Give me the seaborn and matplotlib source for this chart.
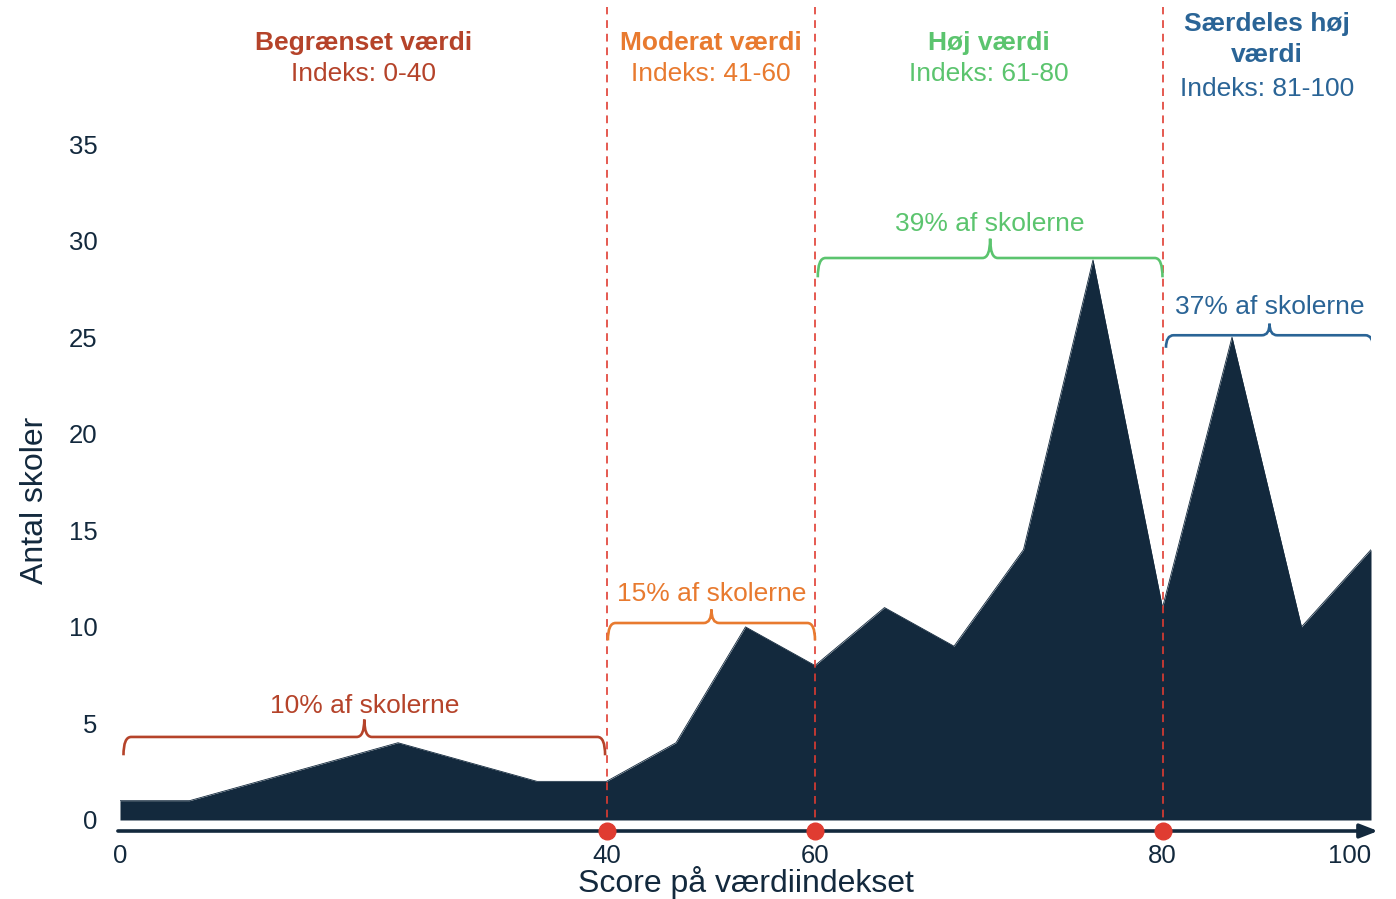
import matplotlib
matplotlib.use("Agg")
import matplotlib.pyplot as plt
from matplotlib.path import Path
from matplotlib.patches import PathPatch
import pandas as pd
import seaborn as sns

# Distribution of schools over the value index (one point per score bin)
bin_index = list(range(19))
school_counts = [1, 1, 2, 3, 4, 3, 2, 2, 4, 10, 8, 11, 9, 14, 29, 11, 25, 10, 14]
tick_positions = [0, 7, 10, 15, 18]
tick_labels = ["0", "40", "60", "80", "100"]
band_edges = [7, 10, 15]

band_titles = ["Begrænset værdi", "Moderat værdi", "Høj værdi", "Særdeles høj\nværdi"]
band_ranges = ["Indeks: 0-40", "Indeks: 41-60", "Indeks: 61-80", "Indeks: 81-100"]
band_shares = ["10% af skolerne", "15% af skolerne", "39% af skolerne", "37% af skolerne"]
band_colors = ["#B5432A", "#E87A2F", "#5BC46E", "#2A6496"]

NAVY = "#13293D"
RED = "#E03C31"

sns.set_theme(style="white")
plt.rcParams["font.family"] = ["Liberation Sans", "DejaVu Sans"]

df = pd.DataFrame({"bin": bin_index, "count": school_counts})

fig = plt.figure(figsize=(13.96, 8.99), dpi=100)
ax = fig.add_axes([120 / 1396, 68 / 899, 1251 / 1396, 831 / 899])

sns.lineplot(data=df, x="bin", y="count", color=NAVY, lw=0.6, ax=ax)
ax.fill_between(df["bin"], 0, df["count"], color=NAVY, lw=0)

ax.set_xlim(0, 18)
ax.set_ylim(-0.57, 42.46)
for s in ax.spines.values():
    s.set_visible(False)

ax.set_yticks(range(0, 40, 5))
ax.set_xticks(tick_positions)
ax.set_xticklabels(tick_labels)
ax.get_xticklabels()[-1].set_horizontalalignment("right")
ax.tick_params(axis="y", length=0, pad=16, labelsize=18.5, labelcolor=NAVY)
ax.tick_params(axis="x", length=0, pad=9.5, labelsize=18.5, labelcolor=NAVY)
ax.set_xlabel("Score på værdiindekset", fontsize=23, color=NAVY, labelpad=-1.5)
ax.set_ylabel("Antal skoler", fontsize=23, color=NAVY)
ax.yaxis.set_label_coords(-0.056, 0.398)

# Horizontal axis arrow
ax.annotate("", xy=(18.1, -0.57), xytext=(-0.03, -0.57),
            arrowprops=dict(arrowstyle="-|>,head_length=0.9,head_width=0.35",
                            color=NAVY, lw=2.6, shrinkA=0, shrinkB=0),
            annotation_clip=False)

# Band boundaries
for e in band_edges:
    ax.axvline(e, ymin=0, ymax=0.992, color=RED, lw=1.4, ls=(0, (4, 3)), alpha=0.85, zorder=3)
ax.plot(band_edges, [-0.57] * len(band_edges), "o", color=RED, ms=12, clip_on=False, zorder=5)


def brace(x0, x1, y, drop, rise, color):
    rx = 0.11
    xm = (x0 + x1) / 2
    verts = [
        (x0, y - drop), (x0, y), (x0 + rx, y),
        (xm - rx, y), (xm, y), (xm, y + rise),
        (xm, y), (xm + rx, y),
        (x1 - rx, y), (x1, y), (x1, y - drop),
    ]
    codes = [
        Path.MOVETO, Path.CURVE3, Path.CURVE3,
        Path.LINETO, Path.CURVE3, Path.CURVE3,
        Path.CURVE3, Path.CURVE3,
        Path.LINETO, Path.CURVE3, Path.CURVE3,
    ]
    ax.add_patch(PathPatch(Path(verts, codes), fill=False, edgecolor=color,
                           lw=1.9, zorder=4, capstyle="butt"))


brace_spans = [(0.05, 6.98), (7.02, 10.0), (10.04, 15.0), (15.05, 18.03)]
brace_levels = [4.3, 10.2, 29.1, 25.1]
brace_drops = [0.95, 0.9, 1.0, 0.65]
brace_rises = [0.9, 0.7, 1.0, 0.6]
share_levels = [5.9, 11.68, 30.85, 26.57]
title_centers = [3.5, 8.5, 12.5, 16.5]

for i in range(4):
    x0, x1 = brace_spans[i]
    c = band_colors[i]
    brace(x0, x1, brace_levels[i], brace_drops[i], brace_rises[i], c)
    ax.text((x0 + x1) / 2, share_levels[i], band_shares[i], color=c, fontsize=19,
            ha="center", va="center", zorder=6)
    if "\n" in band_titles[i]:
        ax.text(title_centers[i], 40.42, band_titles[i], color=c, fontsize=19,
                fontweight="bold", ha="center", va="center", linespacing=1.33,
                clip_on=False)
        ax.text(title_centers[i], 37.85, band_ranges[i], color=c, fontsize=19,
                ha="center", va="center", clip_on=False)
    else:
        ax.text(title_centers[i], 40.25, band_titles[i], color=c, fontsize=19,
                fontweight="bold", ha="center", va="center", clip_on=False)
        ax.text(title_centers[i], 38.62, band_ranges[i], color=c, fontsize=19,
                ha="center", va="center", clip_on=False)

fig.savefig("out.png", dpi=100)
